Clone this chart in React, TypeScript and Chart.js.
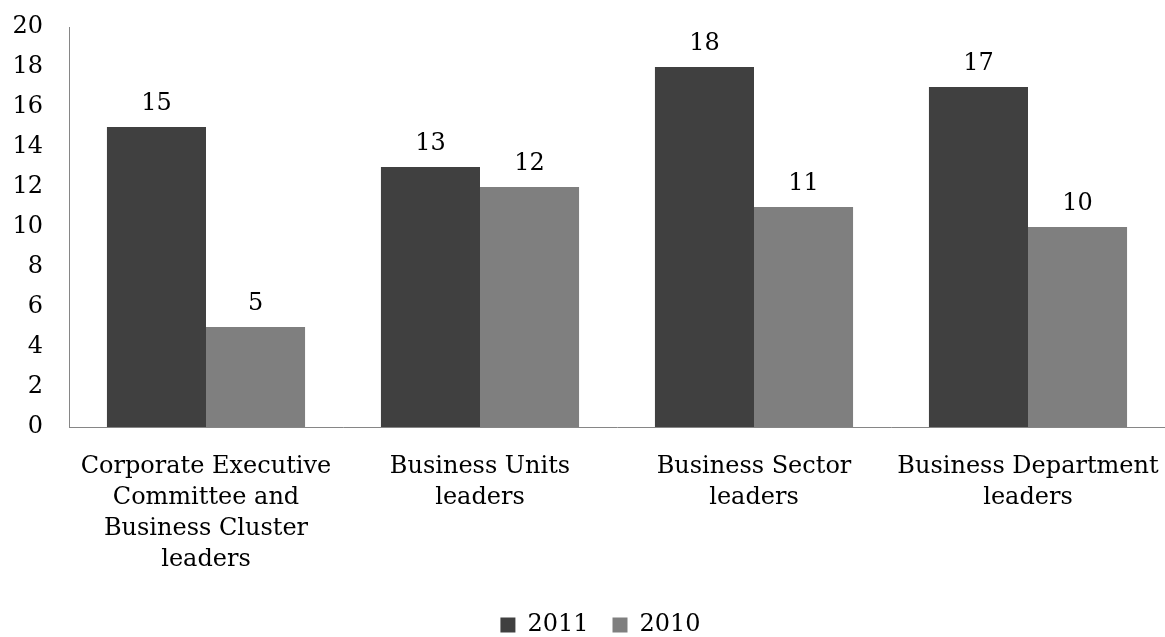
import React, { useEffect, useRef } from "react";
import { Chart, registerables } from "chart.js";

Chart.register(...registerables);

const categories: string[][] = [
  ["Corporate Executive", "Committee and", "Business Cluster", "leaders"],
  ["Business Units", "leaders"],
  ["Business Sector", "leaders"],
  ["Business Department", "leaders"],
];
const seriesNames = ["2011", "2010"];
const values2011 = [15, 13, 18, 17];
const values2010 = [5, 12, 11, 10];
const yTicks = [0, 2, 4, 6, 8, 10, 12, 14, 16, 18, 20];

const FONT = "'DejaVu Serif', serif";

const valueLabels = {
  id: "valueLabels",
  afterDatasetsDraw(chart: any) {
    const ctx = chart.ctx;
    ctx.save();
    ctx.font = `24px ${FONT}`;
    ctx.fillStyle = "#000";
    ctx.textAlign = "center";
    ctx.textBaseline = "alphabetic";
    chart.data.datasets.forEach((ds: any, di: number) => {
      const meta = chart.getDatasetMeta(di);
      meta.data.forEach((bar: any, i: number) => {
        ctx.fillText(String(ds.data[i]), bar.x, bar.y - 17);
      });
    });
    ctx.restore();
  },
};

const legendShift = {
  id: "legendShift",
  beforeDraw(chart: any) {
    const lg = chart.legend;
    if (lg && !lg._shifted) {
      lg.left += 18;
      lg.right += 18;
      lg._shifted = true;
    }
  },
  afterLayout(chart: any) {
    if (chart.legend) chart.legend._shifted = false;
  },
};

export default function App() {
  const ref = useRef<HTMLCanvasElement>(null);
  useEffect(() => {
    document.body.style.margin = "0";
    const chart = new Chart(ref.current!, {
      type: "bar",
      data: {
        labels: categories,
        datasets: [
          { label: seriesNames[0], data: values2011, backgroundColor: "#404040", borderWidth: 0 },
          { label: seriesNames[1], data: values2010, backgroundColor: "#7f7f7f", borderWidth: 0 },
        ],
      },
      options: {
        responsive: false,
        animation: false,
        layout: { padding: { top: 27, left: 0, right: 0, bottom: -10 } },
        datasets: { bar: { categoryPercentage: 0.723, barPercentage: 1 } },
        plugins: {
          tooltip: { enabled: false },
          legend: {
            position: "bottom",
            labels: {
              font: { family: FONT, size: 24 },
              color: "#000",
              boxWidth: 15,
              boxHeight: 15,
              padding: 24,
            },
          },
        },
        scales: {
          x: {
            grid: { display: false, drawTicks: false },
            border: { display: true, color: "#868686", width: 1 },
            ticks: {
              color: "#000",
              font: { family: FONT, size: 24, lineHeight: 1.3 },
              padding: 24,
              maxRotation: 0,
              autoSkip: false,
            },
            afterFit(scale: any) {
              scale.height = 162;
              scale.paddingLeft = 0;
              scale.paddingRight = 0;
            },
          },
          y: {
            min: 0,
            max: 20,
            grid: { display: false, drawTicks: false },
            border: { display: true, color: "#868686", width: 1 },
            afterBuildTicks(scale: any) {
              scale.ticks = yTicks.map((v) => ({ value: v }));
            },
            ticks: {
              color: "#000",
              font: { family: FONT, size: 24 },
              padding: 26,
            },
            afterFit(scale: any) {
              scale.width = 69;
              scale.paddingTop = 0;
              scale.paddingBottom = 0;
            },
          },
        },
      },
      plugins: [valueLabels, legendShift],
    });
    return () => chart.destroy();
  }, []);
  return (
    <div style={{ width: 1165, height: 637 }}>
      <canvas ref={ref} width={1165} height={637} />
    </div>
  );
}
